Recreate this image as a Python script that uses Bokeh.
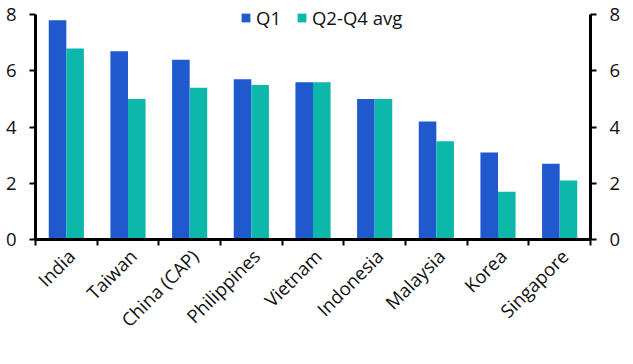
import math
from bokeh.plotting import figure
from bokeh.models import (Range1d, LinearAxis, FixedTicker, ColumnDataSource,
                          Legend, LegendItem)
from bokeh.embed import file_html
from bokeh.resources import INLINE

categories = ["India", "Taiwan", "China (CAP)", "Philippines", "Vietnam",
              "Indonesia", "Malaysia", "Korea", "Singapore"]
q1 = [7.8, 6.7, 6.4, 5.7, 5.6, 5.0, 4.2, 3.1, 2.7]
q2_q4_avg = [6.8, 5.0, 5.4, 5.5, 5.6, 5.0, 3.5, 1.7, 2.1]
y_ticks = [0, 2, 4, 6, 8]

BLUE = "#2059CD"
TEAL = "#0DB8AB"
FONT = "Open Sans"
FS = "18.5px"

idx = list(range(len(categories)))
src = ColumnDataSource(dict(
    x1=[i + 0.5 - 0.1425 for i in idx],
    x2=[i + 0.5 + 0.1425 for i in idx],
    q1=q1, q2=q2_q4_avg,
))

p = figure(frame_width=555, frame_height=236, output_backend="svg", toolbar_location=None,
           x_range=Range1d(0, len(categories)), y_range=Range1d(0, 8.4),
           min_border_left=35, min_border_right=27, min_border_top=3,
           min_border_bottom=100, y_axis_location="left")
p.outline_line_color = None
p.grid.visible = False
p.background_fill_color = "white"
p.border_fill_color = "white"

r1 = p.vbar(x="x1", top="q1", width=0.285, source=src, fill_color=BLUE, line_color=None)
r2 = p.vbar(x="x2", top="q2", width=0.285, source=src, fill_color=TEAL, line_color=None)

# x axis: labels at category centres, tick marks at category boundaries
lab_shift = 0.08
xa = p.xaxis[0]
xa.ticker = FixedTicker(ticks=[i + 0.5 + lab_shift for i in idx],
                        minor_ticks=list(range(len(categories) + 1)))
xa.major_label_overrides = {i + 0.5 + lab_shift: c for i, c in zip(idx, categories)}
xa.major_label_orientation = math.pi / 4
xa.major_tick_out = 0
xa.major_tick_in = 0
xa.minor_tick_out = 6
xa.minor_tick_in = 0
xa.minor_tick_line_width = 2
xa.minor_tick_line_color = "black"
xa.axis_line_width = 3
xa.axis_line_color = "black"
xa.major_label_text_font = FONT
xa.major_label_text_font_size = FS
xa.major_label_text_color = "#111111"
xa.major_label_standoff = 7

def style_y(ax):
    ax.ticker = FixedTicker(ticks=y_ticks, minor_ticks=[])
    ax.bounds = (0, 8)
    ax.major_tick_out = 6
    ax.major_tick_in = 0
    ax.major_tick_line_width = 2
    ax.minor_tick_out = 0
    ax.minor_tick_in = 0
    ax.axis_line_width = 3
    ax.major_label_text_font = FONT
    ax.major_label_text_font_size = FS
    ax.major_label_text_color = "#111111"

style_y(p.yaxis[0])
p.yaxis[0].major_label_standoff = 13
ra = LinearAxis()
style_y(ra)
ra.major_label_standoff = 13
p.add_layout(ra, "right")

legend = Legend(items=[LegendItem(label="Q1", renderers=[r1]),
                       LegendItem(label="Q2-Q4 avg", renderers=[r2])],
                location=(205, 209), orientation="horizontal")
legend.background_fill_alpha = 0
legend.border_line_color = None
legend.label_text_font = FONT
legend.label_text_font_size = FS
legend.label_text_color = "#111111"
legend.glyph_width = 11
legend.glyph_height = 11
legend.spacing = 15
legend.label_standoff = 5
legend.margin = 0
legend.padding = 0
p.add_layout(legend, "center")

open("out.html", "w").write(file_html(p, INLINE))
